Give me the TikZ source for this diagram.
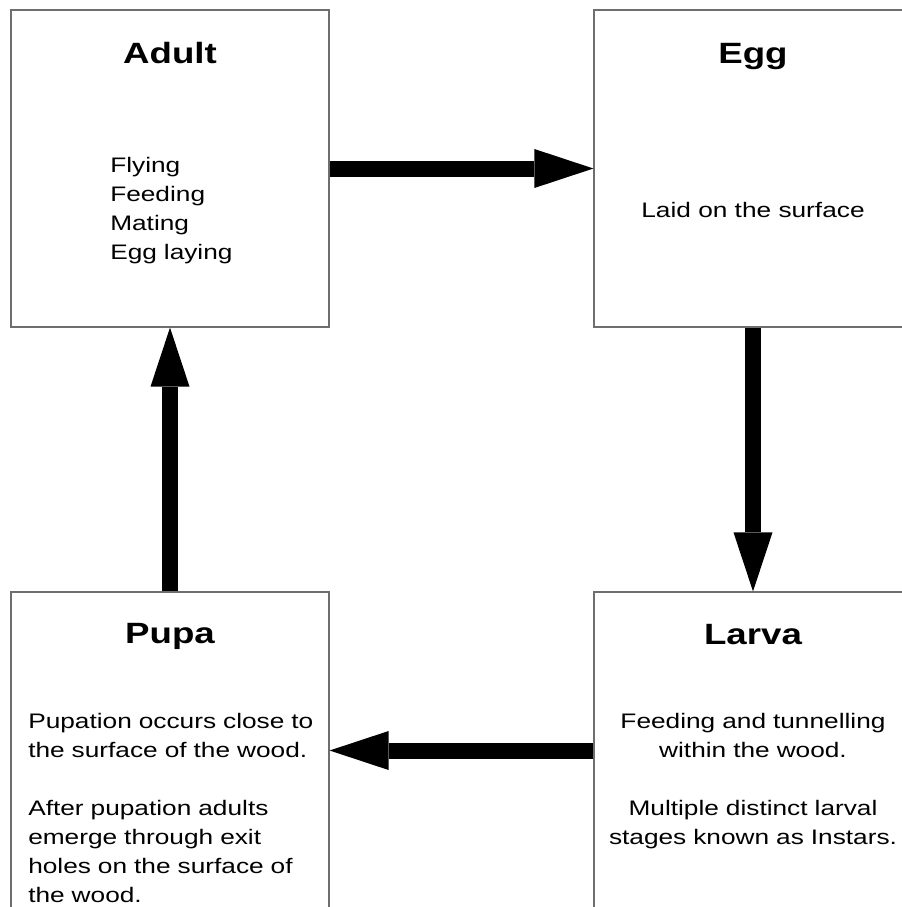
\documentclass[tikz,border=0pt]{standalone}
\usepackage{fontspec}
\setmainfont{Liberation Sans}[FakeStretch=1.25]
\usetikzlibrary{arrows.meta}
\definecolor{boxline}{HTML}{6E6E6E}

\begin{document}
\begin{tikzpicture}[x=0.75pt, y=-0.75pt,
    stage/.style={draw=boxline, line width=0.9pt, minimum width=238.5pt, minimum height=237.75pt, inner sep=0pt},
    stagename/.style={anchor=base, inner sep=0pt, font=\fontsize{22pt}{26pt}\selectfont\bfseries},
    stagetext/.style={inner sep=0pt, font=\fontsize{15.75pt}{21.75pt}\selectfont},
    flow/.style={line width=12pt, -{Triangle[length=44.25pt, width=29.25pt, line width=0pt]}}]
        % Page (boxes run off the right and bottom edges)
        \clip (0,0) rectangle (902,907);

        % Stage boxes
        \node[stage] (adult) at (170,168.5) {};
        \node[stage] (egg)   at (753,168.5) {};
        \node[stage] (pupa)  at (170,750.5) {};
        \node[stage] (larva) at (753,750.5) {};

        % Stage names
        \node[stagename] (adultname) at (170,63)  {Adult};
        \node[stagename] (eggname)   at (753,63)  {Egg};
        \node[stagename] (pupaname)  at (170,643) {Pupa};
        \node[stagename] (larvaname) at (753,644) {Larva};

        % Stage notes
        \node[stagetext, anchor=base west, text width=200pt, align=left] (adulttext) at (110,172)
            {Flying\\ Feeding\\ Mating\\ Egg laying};
        \node[stagetext, anchor=base] (eggtext) at (753,217) {Laid on the surface};
        \node[stagetext, anchor=base west, text width=240pt, align=left] (pupatext) at (28,728)
            {Pupation occurs close to\\ the surface of the wood.\\[21.75pt]
             After pupation adults\\ emerge through exit\\ holes on the surface of\\ the wood.};
        \node[stagetext, anchor=base, text width=300pt, align=center] (larvatext) at (753,728)
            {Feeding and tunnelling\\ within the wood.\\[21.75pt]
             Multiple distinct larval\\ stages known as Instars.};

        % Life cycle arrows
        \draw[flow] (adult) -- (egg);
        \draw[flow] (egg) -- (larva);
        \draw[flow] (larva) -- (pupa);
        \draw[flow] (pupa) -- (adult);
    \end{tikzpicture}
\end{document}
